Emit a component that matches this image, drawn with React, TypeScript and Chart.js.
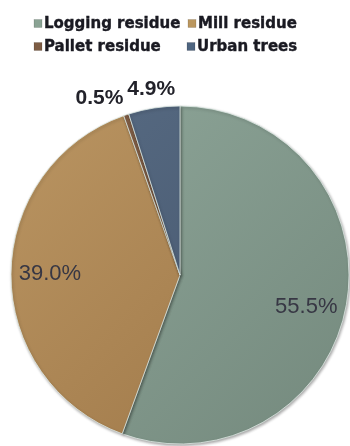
import React, { useEffect, useRef } from "react";
import { Chart, registerables } from "chart.js";

Chart.register(...registerables);

// ---- data ----
const categories = ["Logging residue", "Mill residue", "Pallet residue", "Urban trees"];
const shares = [55.5, 39.0, 0.5, 4.9];

// ---- styles ----
const legendColors = ["#8aa394", "#bb975f", "#7d5c44", "#4e6580"];
const lightColors = ["#8fa79a", "#ba9562", "#86634a", "#586c84"];
const darkColors = ["#74897d", "#9c7546", "#6e4f39", "#43536a"];

// label placement (layout): radius factor, angle shift in degrees, bold?
const labelLayout = [
  { r: 0.77, da: 4, bold: false },
  { r: 0.77, da: 0, bold: false },
  { r: 1.147, da: -6, bold: true },
  { r: 1.11, da: 0, bold: true },
];

// legend layout: rows of [index, squareX]
const legendRows = [
  { y: 23.5, items: [[0, 34], [1, 188]] },
  { y: 46.5, items: [[2, 34], [3, 187]] },
];

const labelsPlugin = {
  id: "pctLabels",
  afterDraw(chart: any) {
    const ctx = chart.ctx;
    const meta = chart.getDatasetMeta(0);
    ctx.save();
    ctx.textAlign = "center";
    ctx.textBaseline = "middle";
    meta.data.forEach((arc: any, i: number) => {
      const lay = labelLayout[i];
      const mid = (arc.startAngle + arc.endAngle) / 2 + (lay.da * Math.PI) / 180;
      const rr = arc.outerRadius * lay.r;
      const x = arc.x + Math.cos(mid) * rr;
      const y = arc.y + Math.sin(mid) * rr;
      ctx.font = lay.bold ? 'bold 21px "Liberation Sans", Arial, sans-serif' : '22px "Liberation Sans", Arial, sans-serif';
      ctx.fillStyle = lay.bold ? "#22222a" : "#373744";
      ctx.fillText(shares[i].toFixed(1) + "%", x, y);
    });
    // legend
    ctx.textAlign = "left";
    ctx.font = 'bold 15px "DejaVu Sans", sans-serif';
    legendRows.forEach((row) => {
      row.items.forEach(([idx, sx]) => {
        ctx.fillStyle = legendColors[idx];
        ctx.fillRect(sx, row.y - 4, 8, 8);
        ctx.strokeStyle = "rgba(0,0,0,0.25)";
        ctx.lineWidth = 0.5;
        ctx.strokeRect(sx, row.y - 4, 8, 8);
        ctx.fillStyle = "#1a1a22";
        ctx.strokeStyle = "#1a1a22";
        ctx.lineWidth = 0.4;
        ctx.fillText(categories[idx], sx + 10, row.y + 0.5);
        ctx.strokeText(categories[idx], sx + 10, row.y + 0.5);
      });
    });
    ctx.restore();
  },
};

const shadowPlugin = {
  id: "pieShadow",
  beforeDatasetsDraw(chart: any) {
    const ctx = chart.ctx;
    ctx.save();
    ctx.shadowColor = "rgba(0,0,0,0.35)";
    ctx.shadowBlur = 3;
    ctx.shadowOffsetX = 1;
    ctx.shadowOffsetY = 1.5;
  },
  afterDatasetsDraw(chart: any) {
    chart.ctx.restore();
  },
};

export default function App() {
  const ref = useRef<HTMLCanvasElement | null>(null);
  useEffect(() => {
    if (!ref.current) return;
    const chart = new Chart(ref.current, {
      type: "pie",
      data: {
        labels: categories,
        datasets: [
          {
            data: shares,
            backgroundColor: (c: any) => {
              const i = c.dataIndex;
              const area = c.chart.chartArea;
              if (!area) return lightColors[i];
              const g = c.chart.ctx.createLinearGradient(area.left, area.top, area.right, area.bottom);
              g.addColorStop(0, lightColors[i]);
              g.addColorStop(1, darkColors[i]);
              return g;
            },
            borderColor: "rgba(225,238,232,0.75)",
            borderWidth: 1,
          },
        ],
      },
      options: {
        responsive: false,
        animation: false,
        devicePixelRatio: 1,
        radius: 169,
        layout: { padding: { left: 10, right: 0, top: 104, bottom: 0 } },
        plugins: {
          legend: { display: false },
          tooltip: { enabled: false },
        },
      } as any,
      plugins: [shadowPlugin, labelsPlugin],
    });
    return () => chart.destroy();
  }, []);
  return (
    <div style={{ position: "fixed", left: 0, top: 0, width: 350, height: 446, background: "#fff" }}>
      <canvas ref={ref} width={350} height={446} />
    </div>
  );
}
